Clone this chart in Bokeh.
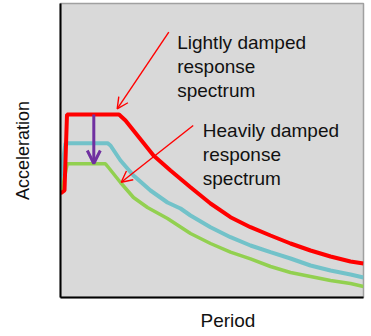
from bokeh.plotting import figure
from bokeh.models import Range1d, Label, Arrow, OpenHead, Title
from bokeh.embed import file_html
from bokeh.resources import INLINE

# Lightly damped response spectrum (red)
red_period = [0, 4, 6.5, 58.5, 65, 73, 93, 110, 130, 150, 170, 190, 210, 230, 250, 270, 290, 303]
red_accel = [104, 107, 183, 183, 177, 167, 142, 127, 110.3, 94, 80.3, 70.3, 62, 54, 47, 41, 36, 34]

# Intermediate damping (teal)
teal_period = [-2, 5, 47, 50, 60, 73, 90, 107, 120, 130, 150, 170, 190, 210, 230, 250, 270, 290, 303]
teal_accel = [105, 154.3, 154.3, 152, 137, 122, 107, 95, 89, 82, 70.3, 60.3, 52, 45.3, 39, 32, 27, 23, 20]

# Heavily damped response spectrum (green)
green_period = [1, 6.7, 45, 48, 60, 73, 87, 107, 130, 150, 170, 190, 210, 230, 250, 270, 290, 303]
green_accel = [105, 133.7, 133.7, 130, 115, 100, 90, 79, 64, 54, 45.3, 38.7, 31, 25, 21, 17, 14, 11]

# annotation arrows: (x_start, y_start, x_end, y_end)
purple_arrow = (33.3, 183, 33.3, 134)
red_arrow_1 = (108.3, 265.3, 56.7, 188.7)
red_arrow_2 = (132.7, 172, 60.7, 115.3)

light_lines = ["Lightly damped", "response", "spectrum"]
heavy_lines = ["Heavily damped", "response", "spectrum"]

FONT = "Liberation Sans"

p = figure(width=371, height=336, output_backend="svg", toolbar_location=None,
           x_range=Range1d(0, 303), y_range=Range1d(0, 294),
           min_border_left=60, min_border_right=8, min_border_top=3, min_border_bottom=39)
p.background_fill_color = "#d9d9d9"
p.border_fill_color = "white"
p.outline_line_color = "#a0a0a0"
p.outline_line_width = 1.5
p.grid.visible = False
for ax in (p.xaxis[0], p.yaxis[0]):
    ax.major_tick_line_color = None
    ax.minor_tick_line_color = None
    ax.major_tick_out = 0
    ax.major_tick_in = 0
    ax.major_label_standoff = 0
    ax.major_label_text_font_size = "0px"
    ax.major_label_text_color = None
    ax.axis_line_color = "black"
    ax.axis_line_width = 2

p.yaxis.axis_label = "Acceleration"
p.yaxis.axis_label_text_font = FONT
p.yaxis.axis_label_text_font_size = "18px"
p.yaxis.axis_label_text_font_style = "normal"
p.yaxis.axis_label_text_color = "#111111"
p.yaxis.axis_label_standoff = 24

p.add_layout(Title(text="Period", align="left", offset=140, text_font=FONT, text_font_size="19px",
                   text_font_style="normal", text_color="#111111", standoff=12), "below")

p.line(teal_period, teal_accel, line_color="#72c2c9", line_width=4)
p.line(green_period, green_accel, line_color="#92d050", line_width=3.5)
p.line(red_period, red_accel, line_color="#ff0000", line_width=4)

p.add_layout(Arrow(x_start=purple_arrow[0], y_start=purple_arrow[1], x_end=purple_arrow[2], y_end=purple_arrow[3],
                   line_color="#7030a0", line_width=3,
                   end=OpenHead(size=13, line_color="#7030a0", line_width=3)))
for a in (red_arrow_1, red_arrow_2):
    p.add_layout(Arrow(x_start=a[0], y_start=a[1], x_end=a[2], y_end=a[3],
                       line_color="#ff0000", line_width=1.4,
                       end=OpenHead(size=11, line_color="#ff0000", line_width=1.4)))

for i, t in enumerate(light_lines):
    p.add_layout(Label(x=116.7, y=255.3 - 24 * i, text=t, text_font=FONT, text_font_size="19px",
                       text_color="#111111", text_baseline="alphabetic", text_align="left"))
for i, t in enumerate(heavy_lines):
    p.add_layout(Label(x=142.3, y=167 - 24 * i, text=t, text_font=FONT, text_font_size="19px",
                       text_color="#111111", text_baseline="alphabetic", text_align="left"))

open("out.html", "w").write(file_html(p, INLINE))
